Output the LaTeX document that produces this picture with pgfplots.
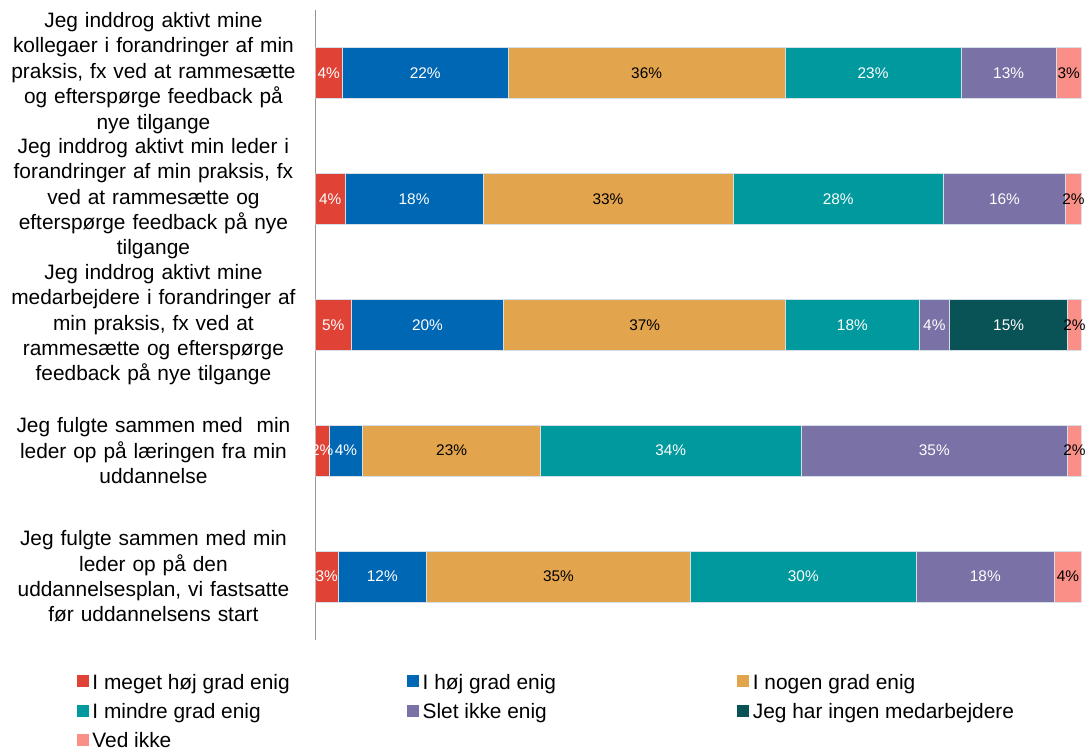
\documentclass[border=0pt]{standalone}
\usepackage{fontspec}
\setmainfont{Liberation Sans}
\usepackage{pgfplots}
\usepackage{pgfplotstable}
\pgfplotsset{compat=1.18}

\definecolor{cA}{HTML}{E04336}
\definecolor{cB}{HTML}{0067B4}
\definecolor{cC}{HTML}{E2A44D}
\definecolor{cD}{HTML}{00999E}
\definecolor{cE}{HTML}{7A72A6}
\definecolor{cF}{HTML}{095256}
\definecolor{cG}{HTML}{FA8F88}
\definecolor{edge}{RGB}{214,222,230}
\definecolor{axgray}{RGB}{150,150,150}

% one table per answer option; c = statement (0 = top)
\pgfplotstableread{
c v lab
0 3.5 4\%
1 3.9 4\%
2 4.7 5\%
3 1.8 2\%
4 3.0 3\%
}\tA
\pgfplotstableread{
c v lab
0 21.7 22\%
1 18.0 18\%
2 19.9 20\%
3 4.4 4\%
4 11.5 12\%
}\tB
\pgfplotstableread{
c v lab
0 36.1 36\%
1 32.6 33\%
2 36.8 37\%
3 23.2 23\%
4 34.5 35\%
}\tC
\pgfplotstableread{
c v lab
0 23.0 23\%
1 27.5 28\%
2 17.4 18\%
3 34.0 34\%
4 29.4 30\%
}\tD
\pgfplotstableread{
c v lab
0 12.4 13\%
1 15.9 16\%
2 4.0 4\%
3 34.8 35\%
4 18.1 18\%
}\tE
\pgfplotstableread{
c v lab
0 0 {}
1 0 {}
2 15.4 15\%
3 0 {}
4 0 {}
}\tF
\pgfplotstableread{
c v lab
0 3.3 3\%
1 2.1 2\%
2 1.8 2\%
3 1.8 2\%
4 3.5 4\%
}\tG

\begin{document}
\begin{tikzpicture}
\begin{axis}[
  name=ax,
  scale only axis,
  width=768bp, height=631bp,
  xbar stacked,
  bar width=51bp,
  xmin=0, xmax=100,
  ymin=-0.5, ymax=4.5,
  enlargelimits=false,
  y dir=reverse,
  axis x line=none,
  axis y line*=left,
  y axis line style={draw=axgray, line width=1bp},
  major tick length=0pt,
  ytick={0,1,2,3,4},
  yticklabels={
    {Jeg inddrog aktivt mine\\kollegaer i forandringer af min\\praksis, fx ved at rammesætte\\og efterspørge feedback på\\nye tilgange},
    {Jeg inddrog aktivt min leder i\\forandringer af min praksis, fx\\ved at rammesætte og\\efterspørge feedback på nye\\tilgange},
    {Jeg inddrog aktivt mine\\medarbejdere i forandringer af\\min praksis, fx ved at\\rammesætte og efterspørge\\feedback på nye tilgange},
    {Jeg fulgte sammen med\ \ min\\leder op på læringen fra min\\uddannelse},
    {Jeg fulgte sammen med min\\leder op på den\\uddannelsesplan, vi fastsatte\\før uddannelsens start}
  },
  yticklabel style={align=center, text width=296bp, inner sep=0pt, xshift=-14bp,
    font=\fontsize{21}{25.5}\selectfont},
  point meta=explicit symbolic,
  nodes near coords,
  every node near coord/.append style={font=\fontsize{15.5}{18}\selectfont, text=white},
  legend columns=3,
  legend style={
    at={(-0.3112,-0.0547)}, anchor=north west,
    draw=none, inner sep=0pt, column sep=0pt, row sep=9.5bp,
    cells={anchor=base west},
    nodes={inner sep=0pt, text height=15bp, text depth=5bp,
      font=\fontsize{21}{25}\selectfont},
  },
  legend image code/.code={
    \path[draw=none, fill=none] (0bp,2bp) -- (15.5bp,2bp);
    \fill[#1, draw=none] (0bp,2bp) rectangle (12bp,14bp);
  },
]
\addplot[fill=cA, draw=edge, line width=0.6bp] table[x=v, y=c, meta=lab] {\tA};
\addplot[fill=cB, draw=edge, line width=0.6bp] table[x=v, y=c, meta=lab] {\tB};
\addplot[fill=cC, draw=edge, line width=0.6bp, every node near coord/.append style={text=black}] table[x=v, y=c, meta=lab] {\tC};
\addplot[fill=cD, draw=edge, line width=0.6bp] table[x=v, y=c, meta=lab] {\tD};
\addplot[fill=cE, draw=edge, line width=0.6bp] table[x=v, y=c, meta=lab] {\tE};
\addplot[fill=cF, draw=edge, line width=0.6bp] table[x=v, y=c, meta=lab] {\tF};
\addplot[fill=cG, draw=edge, line width=0.6bp, every node near coord/.append style={text=black}] table[x=v, y=c, meta=lab] {\tG};
\legend{
  \makebox[315.5bp][l]{I meget høj grad enig},
  \makebox[315.5bp][l]{I høj grad enig},
  \makebox[315.5bp][l]{I nogen grad enig},
  \makebox[315.5bp][l]{I mindre grad enig},
  \makebox[315.5bp][l]{Slet ikke enig},
  \makebox[315.5bp][l]{Jeg har ingen medarbejdere},
  \makebox[315.5bp][l]{Ved ikke}
}
\end{axis}
\path (ax.south west) ++(-316bp,-110bp) rectangle ++(1089bp,751bp);
\end{tikzpicture}
\end{document}
